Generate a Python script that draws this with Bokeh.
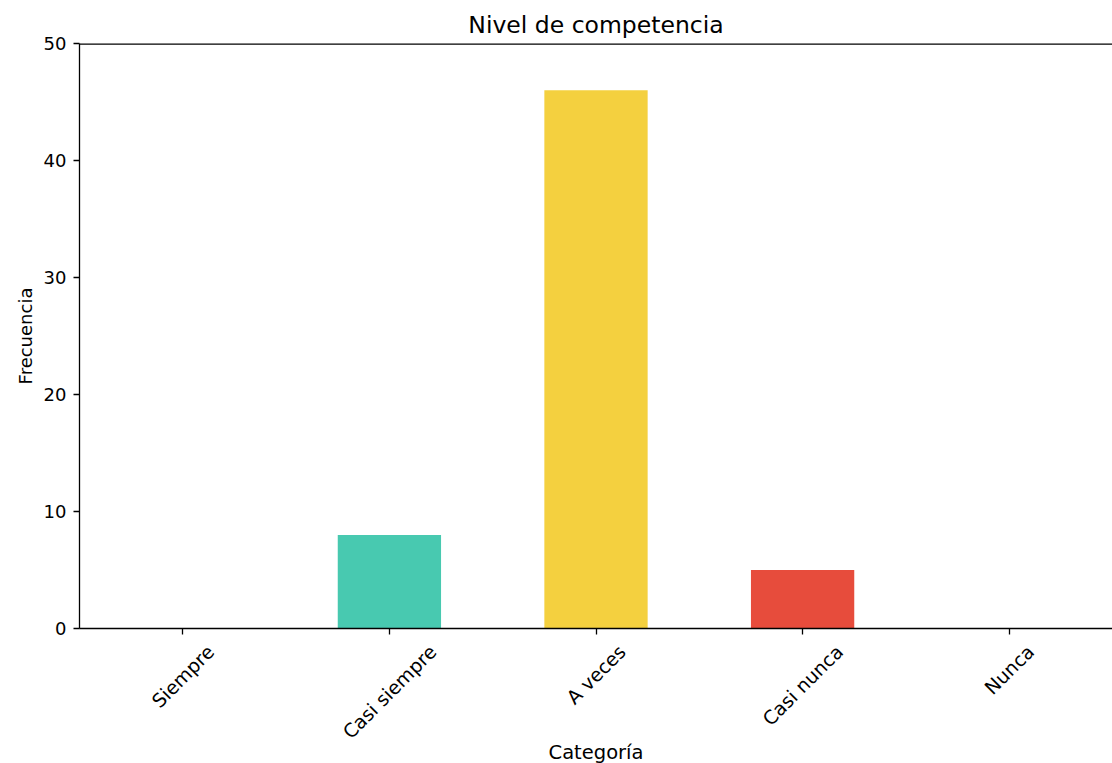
import math
from bokeh.plotting import figure
from bokeh.layouts import column
from bokeh.models import ColumnDataSource, Range1d, SingleIntervalTicker, FixedTicker, Span
from bokeh.core.properties import value
from bokeh.embed import file_html
from bokeh.resources import INLINE

categories = ["Siempre", "Casi siempre", "A veces", "Casi nunca", "Nunca"]
frequencies = [0, 8, 46, 5, 0]
colors = ["#3498DB", "#48C9B0", "#F4D03F", "#E74C3C", "#8E44AD"]

FONT = "DejaVu Sans"
TICK_FS = 18
CAT_FS = 19
LEFT = 79
FRAME_W = 1033
FRAME_H = 585
TOP = 43
BOTTOM = 10
LOWER_H = 763 - TOP - FRAME_H - BOTTOM

# approximate DejaVu Sans advance widths (em) to centre rotated tick labels like matplotlib
ADV = {'S': 0.635, 'i': 0.278, 'e': 0.615, 'm': 0.974, 'p': 0.635, 'r': 0.411, 'C': 0.698,
       'a': 0.613, 's': 0.521, ' ': 0.318, 'A': 0.684, 'v': 0.592, 'c': 0.55, 'n': 0.634,
       'u': 0.634, 'N': 0.748}


def label_center(txt):
    w = CAT_FS * sum(ADV.get(ch, 0.6) for ch in txt)
    h = CAT_FS * 1.0
    H = (w + h) / math.sqrt(2)
    return -(13 + H / 2 - BOTTOM)


pos = list(range(len(categories)))
source = ColumnDataSource(dict(x=pos, cat=categories, freq=frequencies, color=colors,
                               ly=[label_center(c) for c in categories]))

xr = Range1d(-0.5, len(categories) - 0.5)

p = figure(
    frame_width=FRAME_W, frame_height=FRAME_H,
    x_range=xr, y_range=Range1d(0, 50),
    output_backend="svg", toolbar_location=None,
    title="Nivel de competencia",
    min_border_left=LEFT, min_border_right=0, min_border_top=TOP, min_border_bottom=BOTTOM,
)
p.vbar(x="x", top="freq", width=0.5, color="color", source=source, line_color=None)

p.title.align = "center"
p.title.text_font = FONT
p.title.text_font_size = "23.5px"
p.title.text_font_style = "normal"
p.title.text_color = "black"

p.xgrid.visible = False
p.ygrid.visible = False
p.outline_line_color = None

p.yaxis.ticker = SingleIntervalTicker(interval=10)
p.xaxis.ticker = FixedTicker(ticks=[], minor_ticks=pos)
for ax in (p.xaxis[0], p.yaxis[0]):
    ax.axis_line_color = "black"
    ax.axis_line_width = 1.3
    ax.major_tick_line_color = "black"
    ax.major_tick_line_width = 1.3
    ax.major_tick_out = 6
    ax.major_tick_in = 0
    ax.major_label_text_font = FONT
    ax.major_label_text_font_size = f"{TICK_FS}px"
    ax.major_label_text_color = "black"
    ax.axis_label_text_font = FONT
    ax.axis_label_text_font_style = "normal"
    ax.axis_label_text_color = "black"
    ax.major_label_standoff = 7
p.yaxis.minor_tick_line_color = None
p.xaxis.minor_tick_line_color = "black"
p.xaxis.minor_tick_line_width = 1.3
p.xaxis.minor_tick_out = 6
p.xaxis.minor_tick_in = 0
p.xaxis.major_label_standoff = 0

p.yaxis.axis_label = "Frecuencia"
p.yaxis.axis_label_text_font_size = "18px"

p.add_layout(Span(location=50, dimension="width", line_color="black", line_width=2.6))

# lower strip holding the rotated category labels and the x axis title
q = figure(
    frame_width=FRAME_W, frame_height=LOWER_H,
    x_range=xr, y_range=Range1d(-LOWER_H, 0),
    output_backend="svg", toolbar_location=None,
    min_border_left=LEFT, min_border_right=0, min_border_top=0, min_border_bottom=0,
)
q.axis.visible = False
q.grid.visible = False
q.outline_line_color = None
q.text(x="x", y="ly", text="cat", source=source, angle=math.pi / 4,
       text_align="center", text_baseline="middle",
       text_font=value(FONT), text_font_size=f"{CAT_FS}px", text_color="black")
q.text(x=[(len(categories) - 1) / 2], y=[-(752 - TOP - FRAME_H - BOTTOM)], text=["Categoría"],
       text_align="center", text_baseline="middle",
       text_font=value(FONT), text_font_size="19.5px", text_color="black")

layout = column(p, q, spacing=0)
open("out.html", "w").write(file_html(layout, INLINE))
